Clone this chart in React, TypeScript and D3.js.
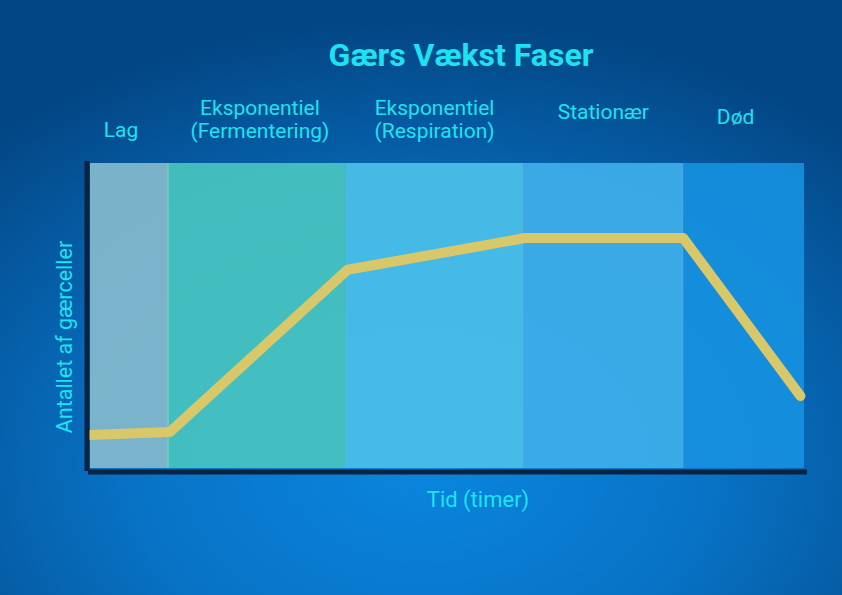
import React, { useRef, useEffect } from 'react'
import * as d3 from 'd3'

// phases of yeast growth, in hours
const phaseLabels = [
  ['Lag'],
  ['Eksponentiel', '(Fermentering)'],
  ['Eksponentiel', '(Respiration)'],
  ['Stationær'],
  ['Død'],
]
const phaseStart = [0, 2.2, 7.2, 12.2, 16.7]
const phaseEnd = [2.2, 7.2, 12.2, 16.7, 20.1]
const phaseColors = ['#83b9cc', '#48c4c0', '#4bbfe8', '#3eaeea', '#1590df']

// growth curve
const timeHours = [0, 2.25, 7.25, 12.25, 16.7, 20.0]
const cellCount = [10.8, 11.8, 65, 75.4, 75.4, 23.6]

// label layout (baseline of each line, small horizontal nudge)
const labelBaselines = [[137], [115, 138], [115, 138], [119], [124]]
const labelNudge = [-8, 3, 0, 0, -8]

const W = 842
const H = 595
const margin = { top: 163, right: 38, bottom: 127, left: 90 }
const FONT = "Roboto, 'Open Sans', sans-serif"
const CYAN = '#1de3f0'

export default function App() {
  const axisRef = useRef<SVGGElement>(null)

  const x = d3.scaleLinear().domain([0, 20.1]).range([margin.left, W - margin.right])
  const y = d3.scaleLinear().domain([0, 100]).range([H - margin.bottom, margin.top])

  useEffect(() => {
    document.body.style.margin = '0'
    if (!axisRef.current) return
    const g = d3.select(axisRef.current)
    g.selectAll('*').remove()

    const left = g
      .append('g')
      .attr('transform', `translate(${margin.left - 3.5},0)`)
      .call(d3.axisLeft(y).ticks(0).tickSizeOuter(0))
    const bottom = g
      .append('g')
      .attr('transform', `translate(0,${H - margin.bottom + 3.5})`)
      .call(d3.axisBottom(x).ticks(0).tickSizeOuter(0))

    for (const a of [left, bottom]) {
      a.select('.domain')
        .attr('stroke', '#0a2340')
        .attr('stroke-width', 5)
        .attr('stroke-linecap', 'square')
    }
  }, [])

  const line = d3
    .line<number>()
    .x((_, i) => x(timeHours[i]))
    .y(d => y(d))

  return (
    <svg width={W} height={H} style={{ display: 'block' }}>
      <defs>
        <radialGradient id="bg" cx="50%" cy="78%" r="75%">
          <stop offset="0%" stopColor="#0a86de" />
          <stop offset="45%" stopColor="#0873c6" />
          <stop offset="100%" stopColor="#034684" />
        </radialGradient>
      </defs>
      <rect width={W} height={H} fill="url(#bg)" />

      <text
        x={461}
        y={66}
        textAnchor="middle"
        fontFamily={FONT}
        fontWeight="bold"
        fontSize={32}
        fill={CYAN}
      >
        Gærs Vækst Faser
      </text>

      {phaseStart.map((s, i) => (
        <g key={i}>
          <rect
            x={x(s)}
            y={margin.top}
            width={x(phaseEnd[i]) - x(s)}
            height={H - margin.bottom - margin.top}
            fill={phaseColors[i]}
            fillOpacity={0.93}
          />
          {i > 0 && (
            <line
              x1={x(s)}
              x2={x(s)}
              y1={margin.top}
              y2={H - margin.bottom}
              stroke={i === 1 ? '#8fdcb4' : '#ffffff'}
              strokeOpacity={i === 1 ? 0.9 : 0.12}
            />
          )}
          {phaseLabels[i].map((t, j) => (
            <text
              key={j}
              x={(x(s) + x(phaseEnd[i])) / 2 + labelNudge[i]}
              y={labelBaselines[i][j]}
              textAnchor="middle"
              fontFamily={FONT}
              fontSize={21}
              fill={CYAN}
            >
              {t}
            </text>
          ))}
        </g>
      ))}

      <path
        d={line(cellCount) || ''}
        fill="none"
        stroke="#d8c86a"
        strokeWidth={10}
        strokeLinejoin="round"
        strokeLinecap="round"
      />

      <g ref={axisRef} />

      <text
        x={478}
        y={507}
        textAnchor="middle"
        fontFamily={FONT}
        fontSize={22}
        fill={CYAN}
      >
        Tid (timer)
      </text>
      <text
        transform={`translate(72,${337}) rotate(-90)`}
        textAnchor="middle"
        fontFamily={FONT}
        fontSize={21.5}
        fill={CYAN}
      >
        Antallet af gærceller
      </text>
    </svg>
  )
}
